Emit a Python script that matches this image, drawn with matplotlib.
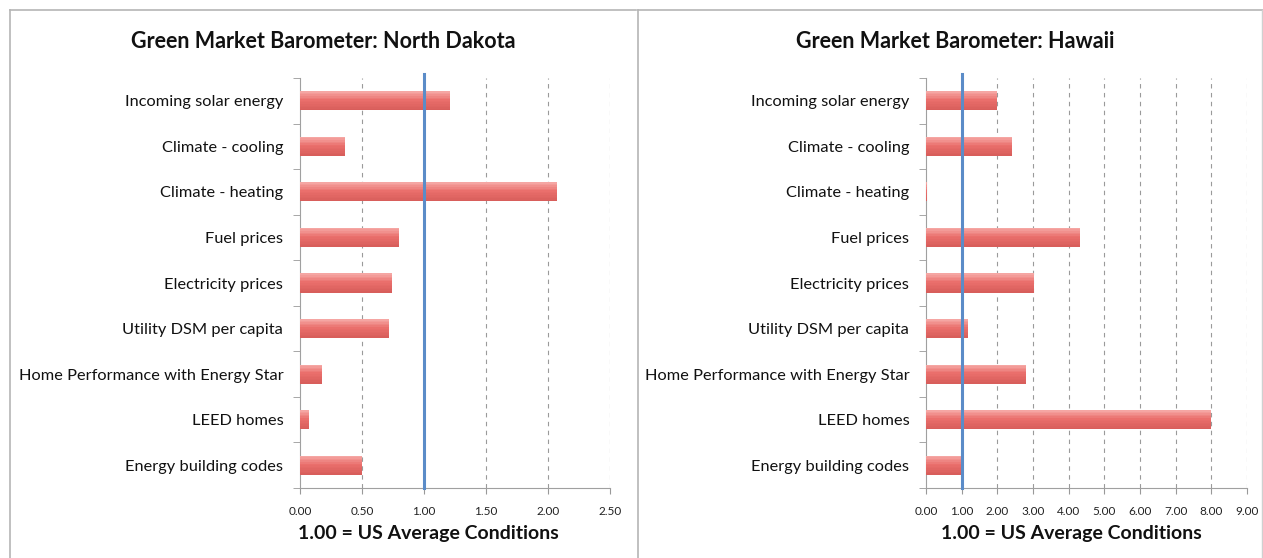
import numpy as np
import matplotlib.pyplot as plt
from matplotlib.lines import Line2D
from matplotlib.colors import to_rgb

plt.rcParams['font.family'] = ['Lato', 'DejaVu Sans']

# categories, top to bottom
categories = ["Incoming solar energy", "Climate - cooling", "Climate - heating",
              "Fuel prices", "Electricity prices", "Utility DSM per capita",
              "Home Performance with Energy Star", "LEED homes",
              "Energy building codes"]

# index values (1.00 = US average)
north_dakota = [1.21, 0.36, 2.07, 0.80, 0.74, 0.72, 0.18, 0.07, 0.50]
hawaii = [2.00, 2.40, 0.03, 4.33, 3.02, 1.18, 2.79, 8.00, 1.00]

nd_ticks = [0.0, 0.5, 1.0, 1.5, 2.0, 2.5]
hi_ticks = [0, 1, 2, 3, 4, 5, 6, 7, 8, 9]

W, H = 1263, 558
fig = plt.figure(figsize=(W / 100, H / 100), dpi=100)

# worksheet-like panel borders
for x0, x1 in [(10, 636), (638, 1263)]:
    fig.add_artist(Line2D([x0 / W, x1 / W], [1 - 10 / H, 1 - 10 / H], color='#b5b5b5', lw=1.2))
    fig.add_artist(Line2D([x0 / W, x0 / W], [0, 1 - 10 / H], color='#b5b5b5', lw=1.2))
fig.add_artist(Line2D([1262 / W, 1262 / W], [0, 1 - 10 / H], color='#d0d0d0', lw=1))

# vertical gradient for the bars (top -> bottom)
top_c, mid_c, bot_c = to_rgb('#F5A6A3'), to_rgb('#EA6F6C'), to_rgb('#D85E5B')
n_slices = 12


def slice_colour(k):
    f = k / (n_slices - 1)
    if f < 0.45:
        t = f / 0.45
        return tuple(a + (b - a) * t for a, b in zip(top_c, mid_c))
    t = (f - 0.45) / 0.55
    return tuple(a + (b - a) * t for a, b in zip(mid_c, bot_c))


def draw_panel(rect, values, ticks, title, title_x, label_x):
    ax = fig.add_axes(rect)
    y = np.arange(len(categories))
    bar_h = 0.42
    sh = bar_h / n_slices
    for k in range(n_slices):
        off = -bar_h / 2 + sh * (k + 0.5)
        ax.barh(y + off, values, height=sh * 1.05, color=slice_colour(k), linewidth=0, zorder=3)
    ax.set_ylim(len(categories) - 0.5, -0.5)
    ax.set_xlim(ticks[0], ticks[-1])
    ax.set_yticks(y)
    ax.set_yticklabels(categories, fontsize=11.8, color='#111111')
    ax.set_yticks(np.arange(-0.5, len(categories), 1.0), minor=True)
    ax.tick_params(axis='y', which='major', length=0, pad=12)
    ax.tick_params(axis='y', which='minor', length=5, color='#999999', direction='out')
    ax.set_xticks(ticks)
    ax.set_xticklabels(['%.2f' % t for t in ticks], fontsize=8.5, color='#222222')
    ax.tick_params(axis='x', length=4, color='#999999', pad=9)
    for t in ticks[1:]:
        ax.axvline(t, color='#9a9a9a', ls=(0, (4, 4)), lw=0.8, zorder=1)
    ax.axvline(1.0, color='#5B8CC8', lw=2.2, zorder=5, ymax=1.01, clip_on=False)
    for s in ['top', 'right']:
        ax.spines[s].set_visible(False)
    for s in ['left', 'bottom']:
        ax.spines[s].set_color('#a0a0a0')
    fig.text(title_x / W, 1 - 42 / H, title, ha='center', va='center',
             fontsize=15.5, fontweight='bold', color='#111111')
    fig.text(label_x / W, 1 - 533 / H, '1.00 = US Average Conditions', ha='center',
             va='center', fontsize=14, fontweight='bold', color='#111111')
    return ax


top, bottom = 78, 488
draw_panel([300 / W, 1 - bottom / H, 310 / W, (bottom - top) / H], north_dakota, nd_ticks,
           'Green Market Barometer: North Dakota', 323, 428)
draw_panel([926 / W, 1 - bottom / H, 321 / W, (bottom - top) / H], hawaii, hi_ticks,
           'Green Market Barometer: Hawaii', 955, 1071)

fig.savefig('out.png', dpi=100)
